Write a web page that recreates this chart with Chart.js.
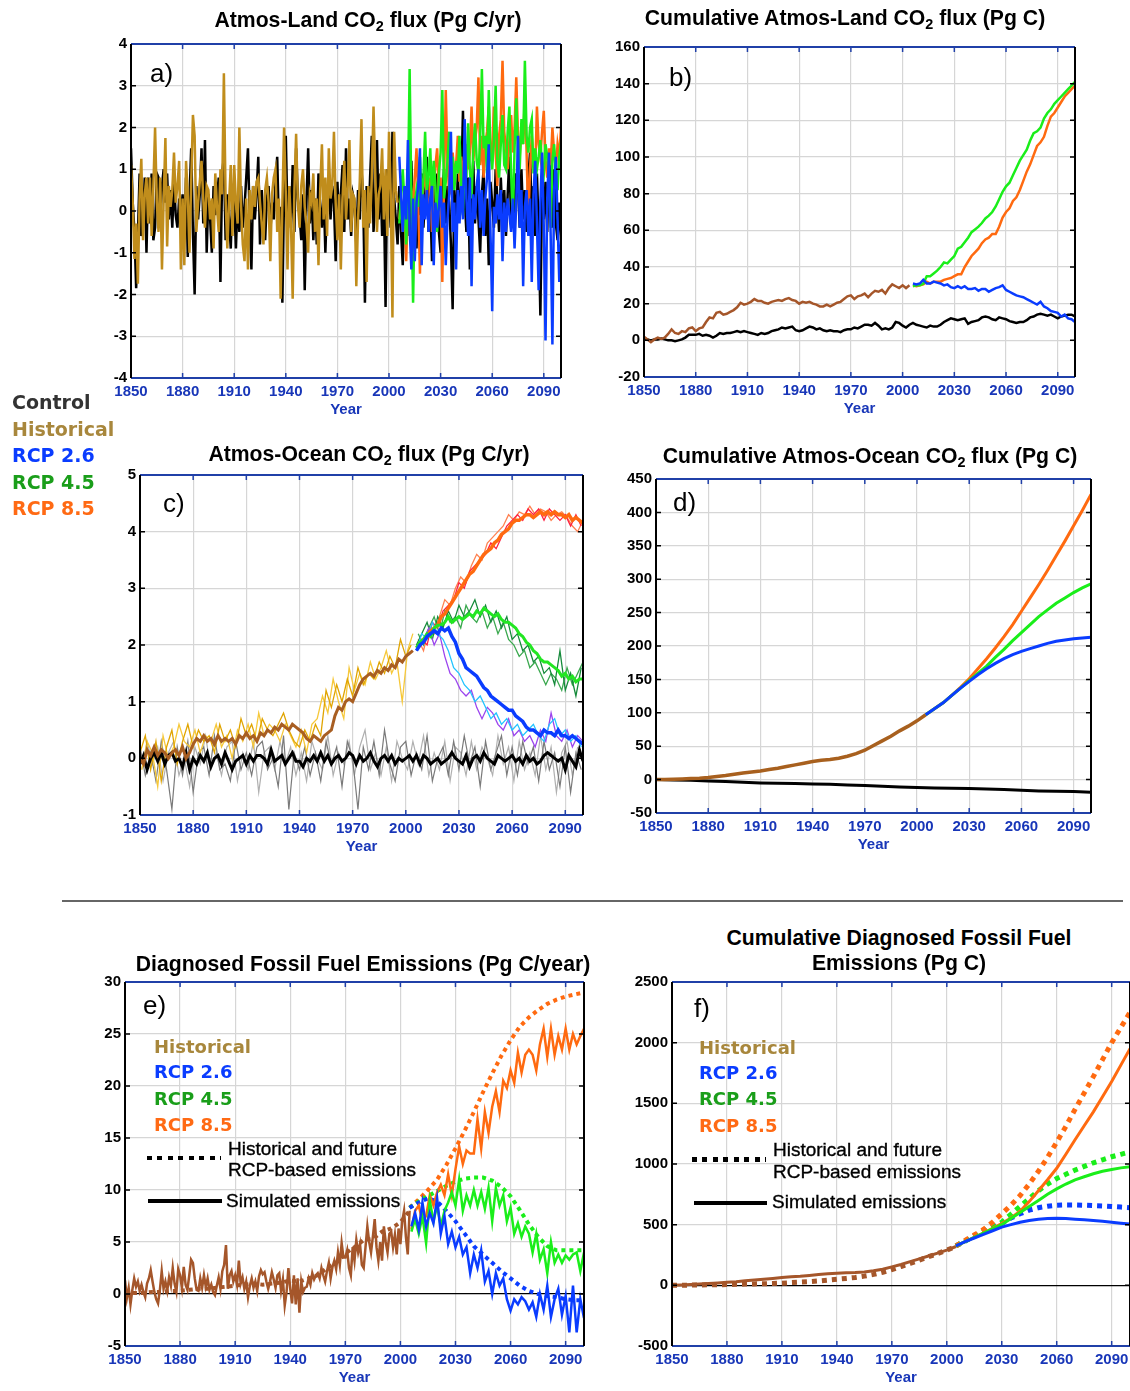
<!DOCTYPE html>
<html lang="en">
<head>
<meta charset="UTF-8">
<title>CO2 fluxes and diagnosed fossil fuel emissions</title>
<script src="https://cdn.jsdelivr.net/npm/chart.js"></script>
<style>
  body { margin: 0; padding: 0; background: #fff; }
  #page { position: relative; width: 1130px; height: 1391px; overflow: hidden; background: #fff; }
  canvas { position: absolute; }
  .title { position: absolute; width: 800px; text-align: center; font: bold 21.2px "Liberation Sans", Arial, sans-serif; line-height: 21px; color: #000; }
  .plab { position: absolute; font: 26px "Liberation Sans", Arial, sans-serif; line-height: 26px; color: #000; }
  .leg { position: absolute; font: bold 19px "DejaVu Sans", Verdana, sans-serif; line-height: 19px; }
  .leg2 { position: absolute; font: bold 18px "DejaVu Sans", Verdana, sans-serif; line-height: 18px; }
  .note { position: absolute; font: 19px "Liberation Sans", Arial, sans-serif; line-height: 19px; color: #000; white-space: nowrap; -webkit-text-stroke: 0.35px #000; }
  sub { font-size: 0.68em; vertical-align: -0.3em; line-height: 0; }
  .dots { position: absolute; background: repeating-linear-gradient(90deg, #000 0 5px, transparent 5px 10.5px); }
  .solid { position: absolute; background: #000; }
</style>
</head>
<body>
<div id="page">
  <canvas id="ca"></canvas>
  <canvas id="cb"></canvas>
  <canvas id="cc"></canvas>
  <canvas id="cd"></canvas>
  <canvas id="ce"></canvas>
  <canvas id="cf"></canvas>

  <!-- titles -->
  <div class="title" style="left:-32px; top:9px;">Atmos-Land CO<sub>2</sub> flux (Pg C/yr)</div>
  <div class="title" style="left:445px; top:7px;">Cumulative Atmos-Land CO<sub>2</sub> flux (Pg C)</div>
  <div class="title" style="left:-31px; top:443px;">Atmos-Ocean CO<sub>2</sub> flux (Pg C/yr)</div>
  <div class="title" style="left:470px; top:445px;">Cumulative Atmos-Ocean CO<sub>2</sub> flux (Pg C)</div>
  <div class="title" style="left:-37px; top:953px;">Diagnosed Fossil Fuel Emissions (Pg C/year)</div>
  <div class="title" style="left:499px; top:927px;">Cumulative Diagnosed Fossil Fuel</div>
  <div class="title" style="left:499px; top:952px;">Emissions (Pg C)</div>

  <!-- panel letters -->
  <div class="plab" style="left:150px; top:60px;">a)</div>
  <div class="plab" style="left:669px; top:64px;">b)</div>
  <div class="plab" style="left:163px; top:490px;">c)</div>
  <div class="plab" style="left:673px; top:489px;">d)</div>
  <div class="plab" style="left:143px; top:992px;">e)</div>
  <div class="plab" style="left:694px; top:995px;">f)</div>

  <!-- shared legend on the left -->
  <div class="leg" style="left:12px; top:393px; color:#333;">Control</div>
  <div class="leg" style="left:12px; top:420px; color:#a8873c;">Historical</div>
  <div class="leg" style="left:12px; top:446px; color:#0a3cff;">RCP 2.6</div>
  <div class="leg" style="left:12px; top:473px; color:#1a9e1a;">RCP 4.5</div>
  <div class="leg" style="left:12px; top:499px; color:#ff6a14;">RCP 8.5</div>

  <!-- separator -->
  <div style="position:absolute; left:62px; top:900px; width:1061px; height:2px; background:#666;"></div>

  <!-- legend e -->
  <div class="leg2" style="left:154px; top:1038px; color:#a8873c;">Historical</div>
  <div class="leg2" style="left:154px; top:1063px; color:#0a3cff;">RCP 2.6</div>
  <div class="leg2" style="left:154px; top:1090px; color:#1a9e1a;">RCP 4.5</div>
  <div class="leg2" style="left:154px; top:1116px; color:#ff6a14;">RCP 8.5</div>
  <div class="dots" style="left:147px; top:1156px; width:74px; height:4px;"></div>
  <div class="note" style="left:228px; top:1139px;">Historical and future</div>
  <div class="note" style="left:228px; top:1160px;">RCP-based emissions</div>
  <div class="solid" style="left:148px; top:1199px; width:74px; height:4px;"></div>
  <div class="note" style="left:226px; top:1191px;">Simulated emissions</div>

  <!-- legend f -->
  <div class="leg2" style="left:699px; top:1039px; color:#a8873c;">Historical</div>
  <div class="leg2" style="left:699px; top:1064px; color:#0a3cff;">RCP 2.6</div>
  <div class="leg2" style="left:699px; top:1090px; color:#1a9e1a;">RCP 4.5</div>
  <div class="leg2" style="left:699px; top:1117px; color:#ff6a14;">RCP 8.5</div>
  <div class="dots" style="left:692px; top:1157px; width:74px; height:5px;"></div>
  <div class="note" style="left:773px; top:1140px;">Historical and future</div>
  <div class="note" style="left:773px; top:1162px;">RCP-based emissions</div>
  <div class="solid" style="left:694px; top:1201px; width:73px; height:4px;"></div>
  <div class="note" style="left:772px; top:1192px;">Simulated emissions</div>
</div>

<script>
// ---- axis ticks ----
const YEAR_TICKS = [1850, 1880, 1910, 1940, 1970, 2000, 2030, 2060, 2090];
const A_YTICKS = [-4, -3, -2, -1, 0, 1, 2, 3, 4];
const B_YTICKS = [-20, 0, 20, 40, 60, 80, 100, 120, 140, 160];
const C_YTICKS = [-1, 0, 1, 2, 3, 4, 5];
const D_YTICKS = [-50, 0, 50, 100, 150, 200, 250, 300, 350, 400, 450];
const E_YTICKS = [-5, 0, 5, 10, 15, 20, 25, 30];
const F_YTICKS = [-500, 0, 500, 1000, 1500, 2000, 2500];

// ---- a) Atmos-Land flux, annual values (Pg C/yr) ----
const A_CTRL = [ // 1850-2100
  1.5, 0.2, -0.5, -1.85, -0.6, 0.9, -0.6, -0.1, 0.8, -1.0,
  0.8, -0.3, 0.9, -0.7, -0.4, 0.9, 0.8, -0.3, 0.6, 1.0,
  0.2, 0.9, -0.2, 0.5, -0.4, 0.7, -0.1, -0.4, 0.3, -0.2,
  0.4, -0.6, 0.8, -1.1, 0.3, 1.5, -0.5, -2.0, 0.6, -0.2,
  0.4, 1.5, -0.3, 1.7, -1.0, 0.4, -0.2, -1.0, 0.6, -0.1,
  0.3, 0.8, -1.7, 0.9, 1.3, -0.7, 0.4, -0.2, -0.9, 0.5,
  0.2, -0.9, 0.3, -0.5, 0.6, -0.4, 0.1, 0.8, 1.5, -0.2,
  -1.4, 0.6, -0.2, 0.4, 1.3, -0.8, 0.5, -0.3, -0.7, 0.3,
  0.6, -0.5, 0.2, -0.2, 0.7, 1.3, -0.4, 0.1, -2.2, 0.4,
  1.8, -0.2, 0.6, -0.4, 1.1, -0.5, 1.5, 0.3, -0.1, -0.7,
  0.4, -1.9, 0.2, 1.5, -0.3, 0.5, -0.7, 0.3, -0.8, 0.9,
  0.1, -0.4, 0.5, -1.0, 0.3, 0.8, -0.2, 0.6, 0.2, -1.2,
  0.7, -0.3, 0.4, 1.1, -0.5, 1.5, -0.2, 0.3, -0.6, 0.4,
  0.2, -0.8, 0.5, -0.2, 1.0, 0.3, -2.2, 0.6, -0.4, 0.8,
  1.8, -0.5, 0.3, 1.7, -0.2, 0.9, -0.6, 0.4, -2.3, 1.0,
  0.5, -0.4, 1.9, 0.3, -0.2, -0.8, 0.6, -0.5, -1.3, 0.4,
  -0.3, 0.8, -0.6, 1.2, -0.2, 0.4, -0.9, 0.5, -0.1, 0.9,
  -0.4, 0.3, 1.3, -0.5, 0.2, -1.2, 0.6, -0.2, 0.9, -0.5,
  -1.0, 0.4, 1.0, -0.3, 0.6, 0.2, -0.8, -2.35, 0.5, -0.4,
  0.9, -0.2, 0.6, 2.4, 0.3, -0.5, 0.8, -1.4, 0.2, 1.2,
  -0.3, 0.6, -0.2, -1.0, 0.4, 1.0, -0.6, 0.3, -1.3, 0.7,
  0.2, -0.4, 1.0, 0.3, -0.5, 0.8, -0.2, 0.5, -0.6, 0.4,
  1.3, -0.3, 0.6, -0.1, 0.9, 0.6, -0.4, 1.0, -0.2, 0.5,
  -0.5, 0.8, 1.4, -0.3, 0.6, -0.6, 0.9, -0.4, -2.5, 0.5,
  -0.2, 0.7, -0.5, 1.4, 0.3, -0.4, 1.0, -0.3, -0.7, 0.2,
  -0.7
];
const A_HIST = [ // 1850-2005
  1.1, 0.2, -1.15, -0.3, -1.74, 0.3, 1.25, -0.7, 0.4, 0.8,
  -0.3, 0.8, -0.6, 0.6, 2.0, 0.2, -0.5, 0.8, -1.4, 0.3,
  1.75, -0.85, 0.6, 0.1, 0.5, 1.4, 0.2, 0.6, 1.2, -1.4,
  0.3, -1.3, 1.2, 0.4, -1.0, 0.7, 2.3, 1.8, -0.5, 0.2,
  0.7, 1.2, 0.3, -0.4, 0.6, 0.5, -0.2, 0.3, -0.9, 0.9,
  0.1, -0.5, 1.0, 0.4, 3.3, 0.3, -0.9, 0.2, 1.1, -0.6,
  1.1, 0.2, -0.3, 2.0, 0.1, -0.8, -1.2, 0.3, -1.4, 0.5,
  -0.2, 0.6, 0.1, 0.7, 0.8, 0.2, -0.3, -0.8, 0.5, 0.8,
  0.2, -1.2, 0.4, 0.8, 1.0, -0.5, 0.3, -2.1, 0.2, 2.0,
  0.4, -1.4, 0.6, -0.3, -2.1, 0.5, 1.85, 0.2, -0.4, 0.6,
  1.0, 0.1, -0.3, -1.0, 0.4, 0.2, 0.9, -0.5, 0.3, -1.3,
  0.5, 1.6, -0.2, 0.8, -0.6, 1.5, 0.3, 0.6, 1.9, 0.2,
  -0.7, 0.4, -1.4, 0.3, 1.2, -0.2, 0.6, 1.7, -0.5, 0.4,
  0.3, -1.8, -0.2, 0.7, 2.2, -0.4, 0.5, -1.7, 0.6, -0.3,
  0.8, 2.5, 0.9, -0.5, 0.4, 0.6, 1.5, -0.2, 1.0, -0.6,
  1.9, 0.4, -2.55, 1.9, 0.5, 0.2
];
const A_R26 = [ // 2006-2100
  1.3, 0.4, -0.5, 0.6,
  -0.2, 1.7, -0.4, -1.4, 0.3, -1.2, 0.2, 0.6, 1.5, -1.3,
  0.4, -0.2, 0.5, -0.5, 0.3, 0.6, -1.3, 0.2, -0.4, 0.1,
  0.6, -0.4, 0.2, -1.3, -0.2, 0.4, 1.9, -0.5, 0.2, -1.4,
  0.5, -0.3, 0.6, -0.2, 2.2, 0.3, -0.6, 0.8, -1.8, 0.4,
  -0.2, 0.6, 1.0, -0.4, 0.5, -0.6, 0.3, 0.8, 1.6, -0.5,
  -2.4, 0.1, -0.3, 0.4, -0.2, 0.5, -1.2, 0.2, -0.5, 0.3,
  -0.1, -0.5, 0.3, -0.9, 0.2, 1.8, -0.4, 0.5, -1.8, 0.1,
  0.5, -0.6, 0.3, -1.7, 0.4, 1.2, -0.3, -1.9, 0.2, 1.4,
  -0.4, -3.1, 0.3, 1.4, -0.6, -3.2, 0.5, 1.3, -0.2, -1.7,
  -0.7
];
const A_R45 = [ // 2006-2100
  -0.3, 0.4, 1.0, 0.2,
  -0.8, 0.5, 3.4, 0.3, -2.2, 0.2, 0.5, 0.1, 1.3, 0.2,
  0.8, 1.9, 0.5, 0.8, 1.5, 0.3, 1.2, 0.6, -0.5, 0.9,
  1.4, 2.9, 0.3, 0.7, 1.2, 1.9, 0.8, 1.3, 0.5, 1.2,
  0.9, 1.8, 0.6, -0.1, 1.3, 0.8, 2.1, 1.0, 0.3, 1.5,
  2.1, 1.2, 0.9, 1.7, 3.4, 1.5, 1.8, 0.9, 2.9, 1.4,
  1.0, 1.7, 3.0, 1.2, 0.8, 1.6, 2.3, 1.1, 1.0, 1.9,
  2.5, 0.9, -0.2, 1.5, 2.7, 1.3, 1.0, 2.2, 1.6, 3.6,
  1.8, 1.4, 2.0, 2.2, 0.9, 1.5, 1.0, 1.3, 1.7, 1.1,
  0.9, 1.6, 1.3, 0.7, -0.4, 1.2, 1.6, 0.9, 0.5, 1.3,
  1.65
];
const A_R85 = [ // 2006-2100
  -0.2, 0.3, -0.5, 0.4,
  -1.2, 0.2, 0.4, 0.5, 0.1, 0.8, 1.5, 0.2, -1.5, 0.4,
  0.6, 1.0, 0.3, -0.2, 0.8, -0.5, 0.7, 1.1, 1.5, 0.4,
  0.8, -1.7, 0.6, 2.9, 1.2, 0.4, 0.5, 1.4, 0.9, 1.1,
  1.8, 0.7, 1.3, 0.9, 0.5, 1.6, 1.0, 1.4, 2.5, 1.2,
  1.7, 2.0, 3.2, 1.1, 1.8, 0.8, 1.6, 1.9, 2.5, 1.2,
  1.5, 2.5, 1.4, 0.6, 1.8, 2.2, 3.6, 1.9, 1.5, 1.0,
  1.7, 2.3, 1.4, 2.0, 3.2, 1.8, 1.3, 2.1, 1.6, 2.8,
  1.4, -0.3, 1.0, 1.8, 1.2, 0.9, 2.5, 1.6, 1.3, 1.9,
  2.4, 1.2, 0.8, 1.5, 1.1, 2.0, 1.4, 1.0, 1.6, 1.3,
  2.0
];

// ---- b) cumulative Atmos-Land flux, every 2 years (Pg C) ----
const B_HIST = [ // 1850-2004
  2, 0.5, -1, 0.5, 1.5,
  0.8, 1.5, 3.5, 6, 4,
  3.5, 5, 4.5, 6.5, 7,
  5, 6.5, 7, 10, 12.5,
  12, 15, 15.5, 14, 14.5,
  15.5, 16.5, 18, 20.5, 19.5,
  20, 21, 22.5, 21.5, 21.5,
  20.5, 20, 21, 21.5, 22,
  21.5, 22.5, 23, 22, 21.5,
  20, 21, 20.5, 21, 20,
  19.5, 18.5, 18.5, 19.5, 18.5,
  19.5, 20.5, 21, 22.5, 24,
  24.5, 22.5, 24, 24.5, 25.5,
  23.5, 25.5, 27, 26.5, 27.5,
  25.5, 28.5, 30.5, 29.5, 28.5,
  30, 28.5, 30
];
const B_CTRL = [ // 1850-2100
  1, 0.5, 0, 0.5, 0.5,
  1, 0.5, 0, 0, -0.5,
  0, 0.5, 1.5, 3, 3,
  3, 3.5, 2.5, 3, 2.5,
  1.5, 2.5, 4, 3.5, 4,
  4, 4.5, 5, 4.5, 5,
  4.5, 4, 3.5, 3, 4,
  3.5, 4, 5, 5.5, 6,
  7, 6.5, 7, 7.5, 5.5,
  5, 5.5, 6.5, 7.5, 7,
  6, 6.5, 5.5, 5, 5.5,
  5, 5, 4.5, 5.5, 6,
  6, 7, 6.5, 7.5, 8.5,
  8.5, 8, 9.5, 8, 6,
  6.5, 6, 7, 10, 9.5,
  8, 7, 8.5, 9.5, 8.5,
  8, 7.5, 7, 8, 7.5,
  7.5, 8.5, 10, 11, 12,
  11.5, 11, 11.5, 12, 9,
  10, 10.5, 11, 12.5, 13,
  12.5, 11.5, 11, 12.5, 12,
  11.5, 10.5, 10, 9.5, 10,
  10, 11, 12.5, 13, 14,
  14.5, 14, 13.5, 14, 13,
  12, 13, 13.5, 14, 14,
  13
];
const B_R26 = [ // 2006-2100
  31, 30.5,
  31, 33, 31, 31, 32,
  31.5, 31, 30, 30.5, 29,
  28.5, 29.5, 28.5, 29.5, 28,
  28, 28.5, 27, 28, 28,
  26.5, 27.5, 28.5, 29, 30,
  27.5, 26.5, 25.5, 24.5, 24,
  23.5, 22.5, 21.5, 20.5, 19.5,
  21, 18.5, 17.5, 16, 15.5,
  15, 13, 14, 12, 11.5,
  10
];
const B_R45 = [ // 2006-2100
  29.5, 30,
  30, 31, 35, 35, 36.5,
  38, 40, 42.5, 42, 44,
  46, 50, 51, 53.5, 56,
  59, 60.5, 62, 64, 66.5,
  68, 70, 73, 77, 81,
  84, 86, 90, 94, 98,
  101, 104, 109, 113, 114,
  116, 121, 124, 126, 129,
  131, 133, 135, 137, 139,
  141
];
const B_R85 = [ // 2006-2100
  30, 29.5,
  30, 30.5, 32, 31, 32,
  32, 32, 33, 33.5, 34,
  35, 36, 36, 40, 43,
  46, 48, 50, 53, 55,
  56, 58, 58, 62, 67,
  70, 72, 76, 78, 82,
  87, 92, 96, 101, 106,
  108, 111, 117, 122, 124,
  127, 130, 133, 135, 137,
  139
];

// ---- c) Atmos-Ocean flux (Pg C/yr): ensemble means every 2 years, members every 3 years ----
const C_CTRL_MEAN = [ // 1850-2100
  -0.1, 0.05, -0.2, 0.0, 0.1,
  -0.05, 0.1, -0.1, 0.05, 0.1,
  -0.05, 0.0, -0.15, 0.1, -0.2,
  0.0, -0.1, 0.05, -0.05, 0.1,
  -0.15, 0.0, 0.05, -0.1, 0.1,
  -0.05, -0.2, -0.05, 0.0, 0.05,
  -0.1, 0.05, -0.05, 0.05, 0.05,
  0.0, -0.1, 0.15, -0.05, 0.0,
  0.05, -0.1, 0.0, 0.1, -0.05,
  -0.05, -0.15, 0.0, -0.05, 0.05,
  -0.05, 0.1, -0.05, 0.05, -0.1,
  0.0, 0.05, -0.05, 0.0, 0.1,
  0.05, -0.1, 0.05, -0.05, 0.0,
  0.1, -0.05, -0.15, 0.0, 0.05,
  -0.05, 0.05, -0.1, 0.0, -0.05,
  0.0, 0.05, -0.05, 0.05, -0.1,
  0.05, 0.0, -0.1, -0.05, 0.0,
  -0.1, -0.05, 0.0, 0.1, 0.0,
  -0.05, -0.1, 0.05, -0.15, 0.0,
  0.05, -0.05, 0.1, 0.0, -0.05,
  -0.1, 0.05, 0.0, -0.05, 0.0,
  0.05, -0.05, 0.0, -0.1, 0.05,
  -0.05, 0.0, -0.1, -0.05, 0.05,
  0.1, 0.05, 0.0, -0.05, 0.0,
  -0.2, 0.05, -0.05, -0.15, 0.15,
  -0.05
];
const C_CTRL_M1 = [ // 1850-2099, step 3
  0.2, -0.3, 0.1, -0.4, 0.3, -0.2, -0.9, 0.2, -0.3, 0.3,
  -0.6, 0.1, 0.2, -0.3, 0.4, -0.2, -0.1, -0.4, 0.3, -0.2,
  0.1, -0.3, 0.2, 0.3, -0.2, 0.0, -0.5, 0.4, -0.9, 0.1,
  -0.2, 0.2, -0.3, 0.1, -0.4, 0.3, -0.1, 0.2, -0.5, 0.3,
  0.0, -0.9, 0.2, -0.2, 0.3, -0.3, 0.5, -0.1, -0.4, 0.2,
  0.3, -0.3, 0.1, -0.2, 0.4, -0.4, 0.0, 0.2, -0.3, 0.3,
  -0.2, 0.4, -0.1, 0.2, -0.5, 0.3, -0.2, 0.1, 0.4, -0.3,
  0.2, -0.3, 0.3, -0.1, 0.2, -0.4, 0.3, -0.2, 0.1, -0.5,
  0.2, -0.6, 0.1, -0.2
];
const C_CTRL_M2 = [ // 1851-2097, step 3
  -0.2, 0.3, -0.1, 0.2, -0.4, 0.1, 0.3, -0.3, 0.0, -0.5,
  0.2, -0.1, 0.4, -0.2, 0.1, -0.3, 0.2, 0.3, -0.4, 0.1,
  -0.2, 0.3, -0.6, 0.1, 0.2, -0.2, 0.3, -0.1, 0.2, -0.3,
  0.1, -0.4, 0.3, 0.0, -0.2, 0.4, -0.3, 0.1, -0.1, 0.3,
  -0.3, 0.2, 0.5, -0.2, 0.1, -0.3, 0.2, -0.4, 0.3, 0.0,
  -0.2, 0.3, -0.1, 0.4, -0.3, 0.1, -0.2, 0.3, -0.4, 0.2,
  0.1, -0.3, 0.3, -0.2, 0.2, 0.0, -0.3, 0.4, -0.1, 0.2,
  -0.4, 0.3, -0.2, 0.1, -0.3, 0.4, -0.2, 0.2, -0.6, 0.1,
  0.3, -0.3, 0.2
];
const C_HIST_MEAN = [ // 1850-2004
  0.0, -0.1, 0.15, 0.05, 0.2,
  0.05, 0.15, 0.1, 0.0, 0.1,
  0.15, 0.05, 0.2, 0.0, 0.1,
  0.25, 0.35, 0.3, 0.4, 0.3,
  0.35, 0.25, 0.4, 0.3, 0.35,
  0.3, 0.35, 0.25, 0.4, 0.35,
  0.45, 0.35, 0.4, 0.3, 0.45,
  0.4, 0.5, 0.45, 0.55, 0.5,
  0.6, 0.55, 0.5, 0.6, 0.55,
  0.5, 0.45, 0.35, 0.3, 0.4,
  0.35, 0.3, 0.4, 0.45, 0.5,
  0.75, 0.9, 0.85, 1.0, 1.05,
  1.0, 1.15, 1.3, 1.4, 1.45,
  1.5, 1.45, 1.55, 1.5, 1.6,
  1.55, 1.65, 1.6, 1.75, 1.7,
  1.8, 1.85, 1.9
];
const C_HIST_M1 = [ // 1850-2003, step 3
  0.1, 0.4, -0.2, 0.3, -0.4, 0.2, 0.5, -0.1, 0.3, 0.6,
  0.2, 0.5, 0.3, 0.4, 0.1, 0.6, 0.3, 0.5, 0.2, 0.7,
  0.4, 0.6, 0.3, 0.7, 0.5, 0.4, 0.6, 0.8, 0.5, 0.3,
  0.2, 0.5, 0.3, 0.6, 0.4, 1.2, 0.9, 1.3, 1.0, 1.4,
  1.1, 1.6, 1.3, 1.5, 1.4, 1.7, 1.5, 1.8, 1.6, 2.1,
  1.8, 2.0
];
const C_HIST_M2 = [ // 1851-2004, step 3
  -0.2, 0.3, 0.1, -0.5, 0.4, 0.0, 0.2, 0.6, 0.3, 0.2,
  0.5, 0.1, 0.4, 0.3, 0.6, 0.2, 0.4, 0.0, 0.5, 0.3,
  0.6, 0.2, 0.8, 0.4, 0.6, 0.5, 0.3, 0.6, 0.4, 0.2,
  0.5, 0.1, 0.6, 0.7, 1.1, 0.8, 1.4, 1.0, 0.7, 1.6,
  1.2, 1.5, 1.3, 1.7, 1.4, 1.6, 1.9, 1.5, 1.7, 1.0,
  1.9, 2.2
];
const C_R85_MEAN = [ // 2006-2100
  1.95, 2.0,
  2.1, 2.15, 2.25, 2.3, 2.35,
  2.5, 2.55, 2.65, 2.75, 2.85,
  2.95, 3.05, 3.15, 3.25, 3.3,
  3.4, 3.5, 3.6, 3.65, 3.7,
  3.8, 3.85, 3.95, 4.0, 4.05,
  4.15, 4.2, 4.2, 4.25, 4.3,
  4.3, 4.25, 4.3, 4.35, 4.3,
  4.35, 4.3, 4.35, 4.3, 4.3,
  4.25, 4.3, 4.2, 4.25, 4.2,
  4.15
];
const C_R45_MEAN = [ // 2006-2100
  1.95, 2.05,
  2.1, 2.2, 2.15, 2.3, 2.35,
  2.35, 2.4, 2.5, 2.4, 2.45,
  2.5, 2.45, 2.5, 2.55, 2.5,
  2.6, 2.55, 2.65, 2.6, 2.55,
  2.5, 2.55, 2.45, 2.4, 2.4,
  2.35, 2.3, 2.2, 2.15, 2.05,
  2.0, 1.9, 1.85, 1.75, 1.7,
  1.7, 1.65, 1.6, 1.55, 1.45,
  1.5, 1.4, 1.45, 1.35, 1.4,
  1.4
];
const C_R26_MEAN = [ // 2006-2100
  1.9, 2.0,
  2.05, 2.15, 2.2, 2.25, 2.2,
  2.3, 2.25, 2.3, 2.15, 2.05,
  1.85, 1.75, 1.6, 1.55, 1.5,
  1.45, 1.35, 1.25, 1.2, 1.1,
  1.05, 1.0, 0.95, 0.9, 0.85,
  0.85, 0.75, 0.7, 0.65, 0.55,
  0.5, 0.5, 0.45, 0.4, 0.5,
  0.45, 0.45, 0.4, 0.5, 0.4,
  0.4, 0.35, 0.4, 0.35, 0.3,
  0.25
];
const C_R85_M1 = [ // 2006-2099, step 3
  1.9, 2.1, 2.0, 2.4, 2.3, 2.6, 2.7, 2.8, 3.1, 3.0,
  3.3, 3.4, 3.5, 3.6, 3.8, 3.7, 3.9, 4.1, 4.2, 4.3,
  4.2, 4.4, 4.3, 4.4, 4.2, 4.4, 4.3, 4.2, 4.3, 4.1,
  4.3, 4.1
];
const C_R85_M2 = [ // 2007-2100, step 3
  2.1, 1.9, 2.3, 2.2, 2.5, 2.8, 2.7, 3.0, 3.2, 3.1,
  3.4, 3.6, 3.5, 3.8, 3.9, 4.0, 4.1, 4.3, 4.2, 4.35,
  4.3, 4.45, 4.3, 4.4, 4.35, 4.2, 4.3, 4.35, 4.25, 4.1,
  4.0, 4.2
];
const C_R45_M1 = [ // 2006-2099, step 3
  2.0, 2.2, 2.4, 2.1, 2.5, 2.3, 2.6, 2.4, 2.7, 2.5,
  2.6, 2.8, 2.5, 2.7, 2.4, 2.6, 2.3, 2.5, 2.1, 2.2,
  1.9, 2.0, 1.7, 1.8, 1.5, 1.6, 1.3, 1.9, 1.2, 1.5,
  1.1, 1.6
];
const C_R45_M2 = [ // 2007-2100, step 3
  2.2, 2.0, 2.3, 2.5, 2.2, 2.6, 2.4, 2.5, 2.3, 2.7,
  2.5, 2.4, 2.6, 2.3, 2.5, 2.2, 2.4, 2.1, 2.0, 1.8,
  1.9, 1.6, 1.7, 1.5, 1.3, 1.5, 1.4, 1.2, 1.6, 1.3,
  1.5, 1.7
];
const C_R26_M1 = [ // 2006-2099, step 3
  1.9, 2.2, 2.1, 2.4, 2.2, 2.1, 1.9, 1.6, 1.5, 1.3,
  1.2, 1.0, 1.1, 0.9, 0.7, 0.8, 0.6, 0.7, 0.5, 0.6,
  0.4, 0.5, 0.6, 0.4, 0.3, 0.6, 0.7, 0.4, 0.5, 0.3,
  0.4, 0.2
];
const C_R26_M2 = [ // 2007-2100, step 3
  2.0, 2.1, 2.3, 2.0, 2.2, 1.8, 1.5, 1.4, 1.2, 1.1,
  1.2, 0.9, 0.7, 0.9, 0.8, 0.6, 0.5, 0.7, 0.4, 0.5,
  0.3, 0.4, 0.2, 0.5, 0.3, 0.8, 0.4, 0.3, 0.5, 0.2,
  0.4, 0.3
];

// ---- d) cumulative Atmos-Ocean flux (Pg C) ----
const D_HIST = [ // 1850-2005, step 5
  0, 0, 0.5, 1, 1.5, 2, 3, 4.5, 6, 8,
  10, 11.5, 13, 15, 17, 19.5, 22, 24.5, 27, 29,
  30, 32, 35, 39, 44, 51, 58, 65, 73, 80,
  88, 97
];
const D_CTRL = [ // 1850-2100, step 10
  0, -0.5, -1, -2, -3, -4, -5, -5.5, -6, -6.5,
  -7, -8, -9, -10, -11, -12, -12.5, -13, -13.5, -14,
  -15, -16, -17, -17.5, -18, -19
];
const D_R26 = [ // 2005-2100, step 5
  97, 106, 115, 126, 137, 147, 157, 166, 174, 181,
  187, 192, 196, 200, 204, 207, 209, 211, 212, 213
];
const D_R45 = [
  97, 106, 115, 126, 137, 148, 159, 170, 183, 195,
  208, 220, 232, 244, 254, 264, 272, 280, 287, 293
];
const D_R85 = [
  97, 106, 115, 126, 138, 151, 166, 181, 197, 214,
  232, 252, 272, 292, 313, 335, 357, 380, 403, 427
];

// ---- e) diagnosed fossil fuel emissions (Pg C/yr) ----
const E_HIST_SIM = [ // 1850-2005, annual
  1.3, -0.4, 0.6, -1.0, 0.4, 1.5, 0.7, 1.2, 0.3, 0.9,
  0.2, -0.3, 1.0, 1.5, 2.3, 1.2, 0.2, -0.5, -0.9, 0.4,
  2.2, 0.5, 1.2, 0.3, 1.6, 0.8, 2.5, 1.0, 0.2, 2.4,
  1.8, 0.6, 2.6, 0.9, 0.4, 1.8, 3.3, 3.0, 1.5, 0.4,
  0.3, 1.5, 0.6, 1.8, 0.7, 1.5, 0.4, 0.9, 0.2, -0.1,
  0.8, 1.6, 0.5, 2.2, 2.8, 4.7, 0.5, 1.8, 2.2, 1.2,
  1.8, 0.9, 3.2, 1.0, 1.6, 0.5, 1.2, -0.3, 0.8, 1.5,
  0.6, 1.2, 0.3, 1.7, 2.3, 1.9, 2.1, 1.2, 0.5, 1.2,
  2.1, 1.4, 0.6, 1.8, 2.0, 0.3, 1.4, -1.1, 0.2, 2.5,
  0.5, -0.9, 1.8, -1.0, 1.5, -1.8, 1.2, 0.2, 0.6, 0.7,
  1.5, 0.9, 2.0, 1.4, 1.8, 2.0, 1.5, 2.5, 1.8, 1.2,
  2.2, 3.0, 1.5, 2.6, 3.2, 2.4, 4.0, 2.8, 4.9, 3.5,
  3.5, 4.2, 2.5, 1.8, 4.5, 3.2, 5.2, 4.0, 4.8, 2.8,
  2.5, 4.5, 6.5, 5.0, 4.0, 5.5, 7.2, 4.5, 3.2, 5.0,
  3.2, 6.5, 5.0, 4.0, 5.8, 6.0, 4.5, 5.7, 3.8, 6.3,
  4.8, 7.0, 8.0, 5.5, 3.8, 8.0
];
const E_HIST_RCP = [ // 1850-2005, step 5
  0.0, 0.1, 0.1, 0.2, 0.2, 0.3, 0.3, 0.4, 0.5, 0.5,
  0.6, 0.7, 0.8, 0.9, 1.0, 0.9, 1.0, 1.1, 1.3, 1.2,
  1.5, 1.8, 2.5, 3.0, 3.9, 4.5, 5.2, 5.3, 6.0, 6.3,
  6.9, 8.0
];
const E_R85_RCP = [ // 2005-2100, step 5
  8.3, 9.1, 10.0, 11.0, 12.4, 14.0, 15.7, 17.5, 19.4, 21.2,
  22.9, 24.4, 25.7, 26.6, 27.3, 27.9, 28.3, 28.6, 28.8, 29.0
];
const E_R45_RCP = [
  8.3, 8.9, 9.4, 9.9, 10.4, 10.8, 11.1, 11.2, 11.2, 10.9,
  10.3, 9.4, 8.1, 6.7, 5.5, 4.6, 4.2, 4.2, 4.2, 4.2
];
const E_R26_RCP = [
  8.3, 8.8, 9.2, 8.9, 8.0, 7.0, 5.8, 4.6, 3.8, 3.0,
  2.2, 1.5, 0.8, 0.3, 0.0, -0.2, -0.3, -0.5, -0.6, -0.6
];
const E_R85_SIM = [ // 2006-2100, step 2
  6.2, 8.0,
  8.5, 7.0, 7.5, 9.5, 8.5,
  9.8, 10.5, 9.5, 11.5, 9.5,
  12.0, 14.2, 12.5, 13.8, 13.5,
  13.5, 16.8, 14.0, 17.5, 15.5,
  18.0, 19.5, 17.5, 20.5, 19.8,
  21.5, 20.3, 23.2, 21.3, 23.0,
  23.5, 23.0, 21.5, 24.0, 25.5,
  22.8, 25.5, 23.0, 24.8, 23.5,
  25.5, 23.5, 25.0, 24.0, 24.8,
  25.5
];
const E_R45_SIM = [
  6.0, 7.2,
  5.8, 7.5, 4.9, 9.0, 7.0,
  8.5, 6.5, 8.0, 8.8, 9.8,
  8.5, 11.0, 8.0, 9.5, 8.5,
  10.0, 8.5, 9.8, 8.2, 10.2,
  7.0, 10.2, 8.5, 9.5, 7.0,
  8.3, 5.8, 6.8, 5.5, 6.5,
  5.8, 4.0, 5.8, 3.3, 4.3,
  2.0, 5.0, 3.0, 3.8, 3.0,
  3.7, 3.3, 3.8, 4.0, 2.2,
  4.0
];
const E_R26_SIM = [
  6.5, 7.8,
  6.2, 8.8, 6.5, 7.8, 6.8,
  9.2, 5.8, 7.5, 4.8, 6.0,
  4.5, 5.5, 3.8, 4.5, 2.0,
  3.8, 2.5, 4.2, 1.2, 2.2,
  0.0, 2.0, 0.8, 1.5, -0.5,
  -1.6, -0.5, -1.0, -0.3, -0.7,
  -1.5, -0.8, -2.2, 0.0, -1.5,
  0.8, -2.2, -0.5, 0.5, -2.0,
  -0.2, -3.7, 0.8, -3.7, -0.5,
  -2.3
];

// ---- f) cumulative diagnosed emissions (Pg C) ----
const F_HIST_SIM = [ // 1850-2005, step 5
  0, 3, 6, 10, 15, 20, 25, 30, 37, 43,
  50, 57, 65, 70, 75, 82, 90, 95, 100, 103,
  105, 110, 120, 133, 152, 172, 195, 218, 242, 265,
  290, 320
];
const F_HIST_RCP = [
  0, 1, 2, 3, 4, 5, 6, 8, 10, 12,
  13, 15, 18, 22, 26, 30, 36, 43, 50, 57,
  65, 76, 90, 108, 130, 155, 180, 208, 236, 262,
  290, 320
];
const F_R85_SIM = [ // 2005-2100, step 5
  325, 360, 395, 430, 470, 510, 555, 610, 690, 780,
  870, 965, 1080, 1200, 1315, 1430, 1555, 1680, 1815, 1950
];
const F_R85_RCP = [
  325, 370, 415, 460, 520, 590, 660, 740, 835, 940,
  1055, 1180, 1310, 1450, 1585, 1720, 1860, 2000, 2125, 2250
];
const F_R45_SIM = [
  325, 360, 395, 430, 465, 500, 550, 600, 650, 700,
  750, 795, 835, 870, 895, 920, 940, 955, 968, 978
];
const F_R45_RCP = [
  325, 365, 405, 445, 480, 520, 585, 650, 715, 780,
  835, 880, 915, 950, 980, 1010, 1035, 1060, 1080, 1100
];
const F_R26_SIM = [
  325, 360, 390, 420, 450, 480, 500, 520, 535, 545,
  550, 552, 550, 545, 540, 535, 528, 520, 512, 505
];
const F_R26_RCP = [
  325, 365, 405, 445, 480, 510, 555, 590, 620, 640,
  652, 660, 662, 662, 660, 657, 654, 650, 645, 640
];

// ---- colours ----
const BLUE = '#0a3cff', GREEN = '#1aee1a', ORANGE = '#ff6a10';
const GOLD = '#c08d1c', BROWN = '#a5562a';
const TICK_BLUE = '#1836b8', SPINE_BLUE = '#2040a8', GRID = '#d6d6d6';
const FONT = '"Liberation Sans", Arial, Helvetica, sans-serif';

// turn a value list into points, x = start year + i * step
function pts(start, step, vals) {
  return vals.map((v, i) => ({ x: start + i * step, y: v }));
}
function line(data, color, width, dash) {
  return {
    data: data, borderColor: color, borderWidth: width, borderDash: dash || [],
    borderCapStyle: 'butt', pointRadius: 0, fill: false, tension: 0
  };
}

// matlab-like box: blue top/bottom, black left/right, inward ticks
const framePlugin = {
  id: 'frame',
  afterDraw(chart) {
    const { ctx, chartArea: a, scales: { x, y } } = chart;
    ctx.save();
    ctx.lineWidth = 1.5;
    ctx.strokeStyle = SPINE_BLUE;
    ctx.beginPath();
    x.ticks.forEach(t => {
      const px = x.getPixelForValue(t.value);
      ctx.moveTo(px, a.bottom); ctx.lineTo(px, a.bottom - 5);
      ctx.moveTo(px, a.top); ctx.lineTo(px, a.top + 5);
    });
    ctx.stroke();
    ctx.strokeStyle = '#000';
    ctx.beginPath();
    y.ticks.forEach(t => {
      const py = y.getPixelForValue(t.value);
      ctx.moveTo(a.left, py); ctx.lineTo(a.left + 5, py);
      ctx.moveTo(a.right, py); ctx.lineTo(a.right - 5, py);
    });
    ctx.stroke();
    ctx.lineWidth = 2;
    ctx.strokeStyle = SPINE_BLUE;
    ctx.beginPath();
    ctx.moveTo(a.left, a.top); ctx.lineTo(a.right, a.top);
    ctx.moveTo(a.left, a.bottom); ctx.lineTo(a.right, a.bottom);
    ctx.stroke();
    ctx.strokeStyle = '#000';
    ctx.beginPath();
    ctx.moveTo(a.left, a.top); ctx.lineTo(a.left, a.bottom);
    ctx.moveTo(a.right, a.top); ctx.lineTo(a.right, a.bottom);
    ctx.stroke();
    ctx.restore();
  }
};

function makePanel(id, box, yMin, yMax, yTicks, datasets, zeroLine) {
  const AX_W = 60, AX_H = 45, PAD_T = 10, PAD_R = 12;
  const cv = document.getElementById(id);
  cv.width = box.R - box.L + AX_W + PAD_R;
  cv.height = box.B - box.T + PAD_T + AX_H;
  cv.style.left = (box.L - AX_W) + 'px';
  cv.style.top = (box.T - PAD_T) + 'px';
  const tickFont = { family: FONT, size: 15, weight: 'bold' };
  return new Chart(cv, {
    type: 'line',
    data: { datasets: datasets },
    options: {
      responsive: false, animation: false, devicePixelRatio: 1,
      layout: { autoPadding: false, padding: { left: 0, top: PAD_T, right: PAD_R, bottom: 0 } },
      plugins: { legend: { display: false }, tooltip: { enabled: false }, title: { display: false } },
      scales: {
        x: {
          type: 'linear', min: 1850, max: 2100,
          afterBuildTicks: s => { s.ticks = YEAR_TICKS.map(v => ({ value: v })); },
          afterFit: s => { s.height = AX_H; },
          grid: { color: GRID, lineWidth: 1.2, drawTicks: false },
          border: { display: false },
          ticks: { color: TICK_BLUE, font: tickFont, padding: 5, maxRotation: 0, autoSkip: false, callback: v => String(v) },
          title: { display: true, text: 'Year', color: TICK_BLUE, font: tickFont, padding: { top: 0, bottom: 4 } }
        },
        y: {
          min: yMin, max: yMax,
          afterBuildTicks: s => { s.ticks = yTicks.map(v => ({ value: v })); },
          afterFit: s => { s.width = AX_W; },
          grid: {
            color: c => (zeroLine && c.tick && c.tick.value === 0) ? '#000' : GRID,
            lineWidth: 1.2, drawTicks: false
          },
          border: { display: false },
          ticks: { color: '#000', font: tickFont, padding: 4, autoSkip: false, callback: v => String(v) }
        }
      }
    },
    plugins: [framePlugin]
  });
}

// datasets are listed top-most first (Chart.js paints the first one last)

// a)
makePanel('ca', { L: 131, T: 41, R: 561, B: 378 }, -4, 4, A_YTICKS, [
  line(pts(2006, 1, A_R26), BLUE, 2.5),
  line(pts(2006, 1, A_R45), GREEN, 2.5),
  line(pts(2006, 1, A_R85), ORANGE, 2.5),
  line(pts(1850, 1, A_HIST), GOLD, 2.5),
  line(pts(1850, 1, A_CTRL), '#000', 2.5)
]);

// b)
makePanel('cb', { L: 644, T: 44, R: 1075, B: 377 }, -20, 160, B_YTICKS, [
  line(pts(2006, 2, B_R26), BLUE, 2.5),
  line(pts(2006, 2, B_R45), GREEN, 2.5),
  line(pts(2006, 2, B_R85), ORANGE, 2.5),
  line(pts(1850, 2, B_HIST), BROWN, 2.5),
  line(pts(1850, 2, B_CTRL), '#000', 2.5)
]);

// c)
makePanel('cc', { L: 140, T: 472, R: 583, B: 815 }, -1, 5, C_YTICKS, [
  line(pts(2006, 2, C_R26_MEAN), BLUE, 3.5),
  line(pts(2006, 2, C_R45_MEAN), '#22e622', 3),
  line(pts(2006, 2, C_R85_MEAN), ORANGE, 3.5),
  line(pts(1850, 2, C_HIST_MEAN), '#a85e22', 3),
  line(pts(1850, 2, C_CTRL_MEAN), '#000', 3),
  line(pts(2006, 3, C_R26_M1), '#22c4ff', 1.3),
  line(pts(2007, 3, C_R26_M2), '#9b44ee', 1.3),
  line(pts(2006, 3, C_R45_M1), '#158a3a', 1.3),
  line(pts(2007, 3, C_R45_M2), '#3aa84e', 1.3),
  line(pts(2006, 3, C_R85_M1), '#ff2040', 1.3),
  line(pts(2007, 3, C_R85_M2), '#ff8050', 1.3),
  line(pts(1850, 3, C_HIST_M1), '#e0a400', 1.3),
  line(pts(1851, 3, C_HIST_M2), '#f6c83a', 1.3),
  line(pts(1850, 3, C_CTRL_M1), '#7a7a7a', 1.2),
  line(pts(1851, 3, C_CTRL_M2), '#b0b0b0', 1.2)
]);

// d)
makePanel('cd', { L: 656, T: 476, R: 1091, B: 813 }, -50, 450, D_YTICKS, [
  line(pts(2005, 5, D_R26), BLUE, 3),
  line(pts(2005, 5, D_R45), GREEN, 3),
  line(pts(2005, 5, D_R85), ORANGE, 3),
  line(pts(1850, 5, D_HIST), '#a8601e', 3.5),
  line(pts(1850, 10, D_CTRL), '#000', 3)
]);

// e)
makePanel('ce', { L: 125, T: 979, R: 584, B: 1346 }, -5, 30, E_YTICKS, [
  line(pts(2006, 2, E_R26_SIM), BLUE, 2.5),
  line(pts(2006, 2, E_R45_SIM), GREEN, 2.5),
  line(pts(2006, 2, E_R85_SIM), ORANGE, 2.5),
  line(pts(1850, 1, E_HIST_SIM), BROWN, 2.5),
  line(pts(2005, 5, E_R26_RCP), BLUE, 4, [4, 4]),
  line(pts(2005, 5, E_R45_RCP), GREEN, 4, [4, 4]),
  line(pts(2005, 5, E_R85_RCP), ORANGE, 4, [4, 4]),
  line(pts(1850, 5, E_HIST_RCP), BROWN, 4, [4, 4])
], true);

// f)
makePanel('cf', { L: 672, T: 979, R: 1130, B: 1346 }, -500, 2500, F_YTICKS, [
  line(pts(2005, 5, F_R26_SIM), BLUE, 3),
  line(pts(2005, 5, F_R45_SIM), GREEN, 3),
  line(pts(2005, 5, F_R85_SIM), ORANGE, 3),
  line(pts(2005, 5, F_R85_RCP), ORANGE, 5, [5, 5]),
  line(pts(2005, 5, F_R45_RCP), GREEN, 5, [5, 5]),
  line(pts(2005, 5, F_R26_RCP), BLUE, 5, [5, 5]),
  line(pts(1850, 5, F_HIST_RCP), BROWN, 5, [5, 5]),
  line(pts(1850, 5, F_HIST_SIM), BROWN, 3)
], true);
</script>
</body>
</html>
